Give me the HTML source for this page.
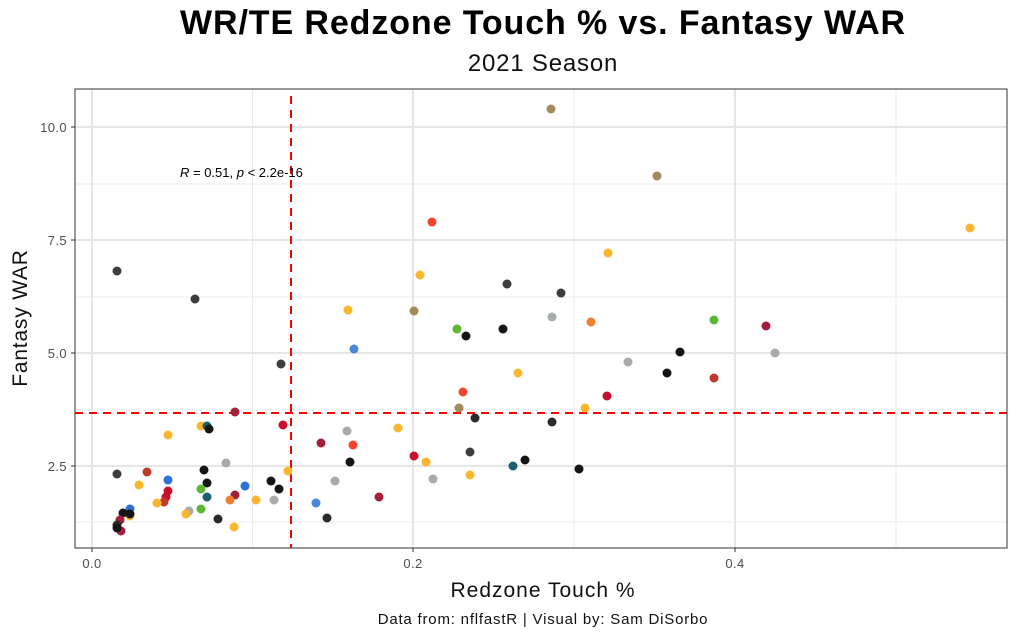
<!DOCTYPE html>
<html><head><meta charset="utf-8"><style>
body{margin:0;background:#fff;width:1023px;height:639px;overflow:hidden;font-family:"Liberation Sans",sans-serif}
</style></head><body>
<svg width="1023" height="639" xmlns="http://www.w3.org/2000/svg" font-family="Liberation Sans, sans-serif">
<rect width="1023" height="639" fill="#fff"/>
<text x="543" y="34" text-anchor="middle" font-size="34" font-weight="bold" letter-spacing="0.9" fill="#000">WR/TE Redzone Touch % vs. Fantasy WAR</text>
<text x="543" y="71" text-anchor="middle" font-size="24" letter-spacing="0.8" fill="#111">2021 Season</text>
<g stroke="#ebebeb" stroke-width="1">
<line x1="252.5" y1="89" x2="252.5" y2="548"/><line x1="574" y1="89" x2="574" y2="548"/><line x1="896" y1="89" x2="896" y2="548"/>
<line x1="75" y1="184" x2="1007" y2="184"/><line x1="75" y1="297" x2="1007" y2="297"/><line x1="75" y1="410" x2="1007" y2="410"/><line x1="75" y1="522" x2="1007" y2="522"/>
</g>
<g stroke="#e6e6e6" stroke-width="2">
<line x1="92" y1="89" x2="92" y2="548"/><line x1="413" y1="89" x2="413" y2="548"/><line x1="735" y1="89" x2="735" y2="548"/>
<line x1="75" y1="127" x2="1007" y2="127"/><line x1="75" y1="240" x2="1007" y2="240"/><line x1="75" y1="353" x2="1007" y2="353"/><line x1="75" y1="466" x2="1007" y2="466"/>
</g>
<g stroke="#ff0000" stroke-width="2" stroke-dasharray="8,6">
<line x1="291" y1="96" x2="291" y2="548"/>
<line x1="75" y1="413" x2="1007" y2="413"/>
</g>
<text x="180" y="177" font-size="13" fill="#000"><tspan font-style="italic">R</tspan> = 0.51, <tspan font-style="italic">p</tspan> &lt; 2.2e-16</text>
<g>
<circle cx="551" cy="109" r="4.5" fill="#a58a5a"/>
<circle cx="657" cy="176" r="4.5" fill="#a58a5a"/>
<circle cx="970" cy="228" r="4.5" fill="#fbb630"/>
<circle cx="608" cy="253" r="4.5" fill="#fbb630"/>
<circle cx="432" cy="222" r="4.5" fill="#f1452f"/>
<circle cx="420" cy="275" r="4.5" fill="#fbb630"/>
<circle cx="117" cy="271" r="4.5" fill="#3d3d3d"/>
<circle cx="195" cy="299" r="4.5" fill="#3d3d3d"/>
<circle cx="507" cy="284" r="4.5" fill="#3d3d3d"/>
<circle cx="561" cy="293" r="4.5" fill="#3d3d3d"/>
<circle cx="348" cy="310" r="4.5" fill="#fbb630"/>
<circle cx="414" cy="311" r="4.5" fill="#a58a5a"/>
<circle cx="457" cy="329" r="4.5" fill="#5cb833"/>
<circle cx="466" cy="336" r="4.5" fill="#151515"/>
<circle cx="503" cy="329" r="4.5" fill="#151515"/>
<circle cx="552" cy="317" r="4.5" fill="#a8abad"/>
<circle cx="591" cy="322" r="4.5" fill="#f07f30"/>
<circle cx="714" cy="320" r="4.5" fill="#5cb833"/>
<circle cx="766" cy="326" r="4.5" fill="#a3203c"/>
<circle cx="354" cy="349" r="4.5" fill="#4a86d8"/>
<circle cx="281" cy="364" r="4.5" fill="#3d3d3d"/>
<circle cx="680" cy="352" r="4.5" fill="#151515"/>
<circle cx="775" cy="353" r="4.5" fill="#a8abad"/>
<circle cx="628" cy="362" r="4.5" fill="#a8abad"/>
<circle cx="667" cy="373" r="4.5" fill="#151515"/>
<circle cx="518" cy="373" r="4.5" fill="#fbb630"/>
<circle cx="714" cy="378" r="4.5" fill="#c0392b"/>
<circle cx="463" cy="392" r="4.5" fill="#f1452f"/>
<circle cx="607" cy="396" r="4.5" fill="#c8102e"/>
<circle cx="585" cy="408" r="4.5" fill="#fbb630"/>
<circle cx="459" cy="408" r="4.5" fill="#a58a5a"/>
<circle cx="475" cy="418" r="4.5" fill="#2a2a2a"/>
<circle cx="552" cy="422" r="4.5" fill="#2a2a2a"/>
<circle cx="347" cy="431" r="4.5" fill="#a8abad"/>
<circle cx="398" cy="428" r="4.5" fill="#fbb630"/>
<circle cx="353" cy="445" r="4.5" fill="#f1452f"/>
<circle cx="350" cy="462" r="4.5" fill="#151515"/>
<circle cx="414" cy="456" r="4.5" fill="#c8102e"/>
<circle cx="426" cy="462" r="4.5" fill="#fbb630"/>
<circle cx="470" cy="452" r="4.5" fill="#3d3d3d"/>
<circle cx="513" cy="466" r="4.5" fill="#1f5f72"/>
<circle cx="525" cy="460" r="4.5" fill="#151515"/>
<circle cx="579" cy="469" r="4.5" fill="#151515"/>
<circle cx="335" cy="481" r="4.5" fill="#a8abad"/>
<circle cx="433" cy="479" r="4.5" fill="#a8abad"/>
<circle cx="470" cy="475" r="4.5" fill="#fbb630"/>
<circle cx="379" cy="497" r="4.5" fill="#a3203c"/>
<circle cx="235" cy="412" r="4.5" fill="#a3203c"/>
<circle cx="201" cy="426" r="4.5" fill="#fbb630"/>
<circle cx="207" cy="426" r="4.5" fill="#1f5f72"/>
<circle cx="209" cy="429" r="4.5" fill="#151515"/>
<circle cx="168" cy="435" r="4.5" fill="#fbb630"/>
<circle cx="283" cy="425" r="4.5" fill="#c8102e"/>
<circle cx="321" cy="443" r="4.5" fill="#a3203c"/>
<circle cx="226" cy="463" r="4.5" fill="#a8abad"/>
<circle cx="117" cy="474" r="4.5" fill="#3d3d3d"/>
<circle cx="147" cy="472" r="4.5" fill="#c0392b"/>
<circle cx="204" cy="470" r="4.5" fill="#151515"/>
<circle cx="288" cy="471" r="4.5" fill="#fbb630"/>
<circle cx="168" cy="480" r="4.5" fill="#2f6fd6"/>
<circle cx="139" cy="485" r="4.5" fill="#fbb630"/>
<circle cx="207" cy="483" r="4.5" fill="#151515"/>
<circle cx="245" cy="486" r="4.5" fill="#2f6fd6"/>
<circle cx="271" cy="481" r="4.5" fill="#151515"/>
<circle cx="279" cy="489" r="4.5" fill="#151515"/>
<circle cx="201" cy="489" r="4.5" fill="#5cb833"/>
<circle cx="168" cy="491" r="4.5" fill="#c8102e"/>
<circle cx="166" cy="497" r="4.5" fill="#c8102e"/>
<circle cx="164" cy="502" r="4.5" fill="#c0392b"/>
<circle cx="157" cy="503" r="4.5" fill="#fbb630"/>
<circle cx="207" cy="497" r="4.5" fill="#1f5f72"/>
<circle cx="235" cy="495" r="4.5" fill="#a3203c"/>
<circle cx="230" cy="500" r="4.5" fill="#f07f30"/>
<circle cx="256" cy="500" r="4.5" fill="#fbb630"/>
<circle cx="274" cy="500" r="4.5" fill="#a8abad"/>
<circle cx="316" cy="503" r="4.5" fill="#4a86d8"/>
<circle cx="327" cy="518" r="4.5" fill="#2a2a2a"/>
<circle cx="189" cy="511" r="4.5" fill="#a8abad"/>
<circle cx="201" cy="509" r="4.5" fill="#5cb833"/>
<circle cx="186" cy="514" r="4.5" fill="#fbb630"/>
<circle cx="218" cy="519" r="4.5" fill="#2a2a2a"/>
<circle cx="234" cy="527" r="4.5" fill="#fbb630"/>
<circle cx="130" cy="509" r="4.5" fill="#2f6fd6"/>
<circle cx="130" cy="516" r="4.5" fill="#fbb630"/>
<circle cx="123" cy="513" r="4.5" fill="#151515"/>
<circle cx="130" cy="514" r="4.5" fill="#151515"/>
<circle cx="120" cy="520" r="4.5" fill="#a3203c"/>
<circle cx="117" cy="525" r="4.5" fill="#2a2a2a"/>
<circle cx="121" cy="531" r="4.5" fill="#a3203c"/>
<circle cx="117" cy="528" r="4.5" fill="#151515"/>
</g>
<rect x="75" y="89" width="932" height="459" fill="none" stroke="#333" stroke-width="1"/>
<g stroke="#333" stroke-width="1">
<line x1="71" y1="127" x2="75" y2="127"/><line x1="71" y1="240" x2="75" y2="240"/><line x1="71" y1="353" x2="75" y2="353"/><line x1="71" y1="466" x2="75" y2="466"/>
<line x1="92" y1="548" x2="92" y2="552"/><line x1="413" y1="548" x2="413" y2="552"/><line x1="735" y1="548" x2="735" y2="552"/>
</g>
<g font-size="13" fill="#4d4d4d" text-anchor="end" letter-spacing="0.4">
<text x="67" y="132">10.0</text><text x="67" y="245">7.5</text><text x="67" y="358">5.0</text><text x="67" y="471">2.5</text>
</g>
<g font-size="13" fill="#4d4d4d" text-anchor="middle" letter-spacing="0.4">
<text x="92" y="568">0.0</text><text x="413" y="568">0.2</text><text x="735" y="568">0.4</text>
</g>
<text x="543" y="597" text-anchor="middle" font-size="21" letter-spacing="1" fill="#111">Redzone Touch %</text>
<text transform="translate(27,318) rotate(-90)" text-anchor="middle" font-size="21" letter-spacing="0.8" fill="#111">Fantasy WAR</text>
<text x="543" y="624" text-anchor="middle" font-size="15" letter-spacing="0.8" fill="#111">Data from: nflfastR | Visual by: Sam DiSorbo</text>
</svg>
</body></html>
